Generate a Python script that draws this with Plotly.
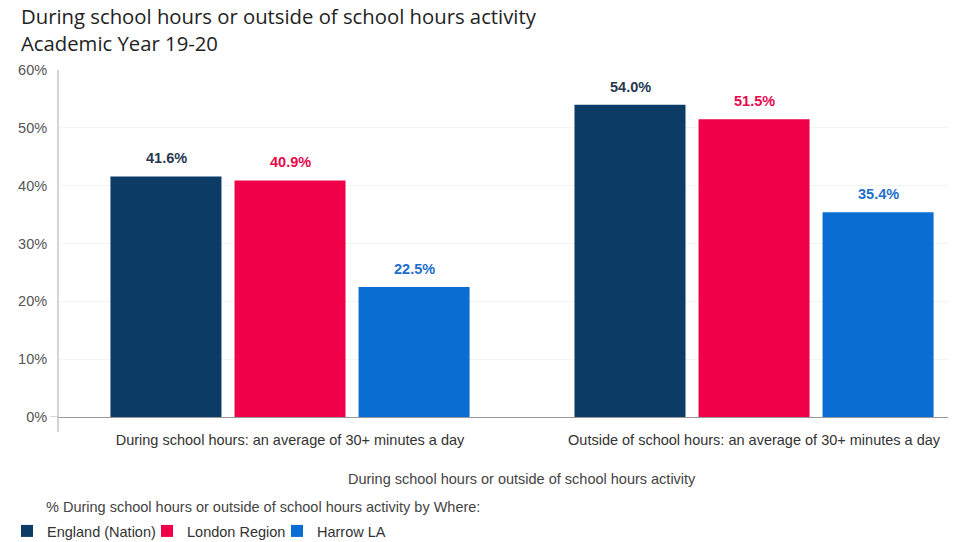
import plotly.graph_objects as go

categories = ["During school hours: an average of 30+ minutes a day",
              "Outside of school hours: an average of 30+ minutes a day"]
series_names = ["England (Nation)", "London Region", "Harrow LA"]
england = [41.6, 54.0]
london = [40.9, 51.5]
harrow = [22.5, 35.4]
bar_colors = ["#0c3c66", "#ef0049", "#0a6dd3"]
label_colors = ["#26384f", "#e8084d", "#1e6fcc"]
y_ticks = [0, 10, 20, 30, 40, 50, 60]
y_tick_labels = ["0%", "10%", "20%", "30%", "40%", "50%", "60%"]

values = [england, london, harrow]
FONT = "Liberation Sans, Arial"
FS = 14.5

# page has an 8px body margin; work in page pixels and convert
OFF = 8
W, H = 957 - OFF, 542 - OFF
plot_left, plot_right, plot_top, plot_bottom = 58, 948, 70, 417
ml = plot_left - OFF
mr = W - (plot_right - OFF)
mt = plot_top - OFF
mb = H - (plot_bottom - OFF)
pw, ph = W - ml - mr, H - mt - mb


def px(x_page):
    return (x_page - OFF - ml) / pw


def py(y_page):
    return 1 - (y_page - OFF - mt) / ph


legend_ids = ["legend", "legend2", "legend3"]
legend_x_page = [7, 147, 277]

fig = go.Figure()
for name, vals, col, lid in zip(series_names, values, bar_colors, legend_ids):
    fig.add_trace(go.Bar(x=categories, y=vals, name=name, legend=lid,
                         marker=dict(color=col, line=dict(width=0))))

anns = []
for i, (vals, lc) in enumerate(zip(values, label_colors)):
    for cat, v in zip(categories, vals):
        anns.append(dict(x=cat, y=v, xref="x", yref="y", text=f"{v:.1f}%",
                         showarrow=False, xshift=(i - 1) * 124, yshift=18,
                         yanchor="middle",
                         font=dict(family=FONT, size=FS, color=lc, weight="bold")))

extra = [
    dict(text="During school hours or outside of school hours activity", x=px(19), y=py(15.5),
         font=dict(family="Open Sans, sans-serif", size=20.3, color="#222222")),
    dict(text="Academic Year 19-20", x=px(19), y=py(42.5),
         font=dict(family="Open Sans, sans-serif", size=20.3, color="#222222")),
    dict(text="% During school hours or outside of school hours activity by Where:", x=px(44), y=py(507),
         font=dict(family=FONT, size=FS, color="#444444")),
]
for e in extra:
    anns.append(dict(text=e["text"], x=e["x"], y=e["y"], xref="paper", yref="paper",
                     xanchor="left", yanchor="middle", showarrow=False, font=e["font"]))
anns.append(dict(text="During school hours or outside of school hours activity", x=0.5, xref="x",
                 y=py(479), yref="paper", xanchor="center", yanchor="middle", showarrow=False,
                 font=dict(family=FONT, size=FS, color="#444444")))

shapes = [
    # y axis line, extending a little below the baseline
    dict(type="line", xref="paper", yref="paper", x0=0, x1=0, y0=py(432), y1=1,
         line=dict(color="#aaaaaa", width=1)),
    # tick mark at 0%
    dict(type="line", xref="paper", yref="y", x0=px(50), x1=0, y0=0, y1=0,
         line=dict(color="#aaaaaa", width=1)),
]

legend_common = dict(orientation="h", yanchor="middle", xanchor="left",
                     font=dict(family=FONT, size=FS, color="#333333"),
                     bgcolor="rgba(0,0,0,0)")

fig.update_layout(
    width=W, height=H,
    margin=dict(l=ml, r=mr, t=mt, b=mb, autoexpand=False),
    paper_bgcolor="white", plot_bgcolor="white",
    barmode="group", bargap=0.198, bargroupgap=0.105,
    annotations=anns,
    shapes=shapes,
    xaxis=dict(type="category", range=[-0.5, 1.418], showgrid=False, automargin=False,
               showline=True, linecolor="#999999", linewidth=1,
               tickfont=dict(family=FONT, size=FS, color="#333333"),
               ticks="outside", ticklen=10, tickcolor="rgba(0,0,0,0)", fixedrange=True),
    yaxis=dict(range=[0, 60], tickvals=y_ticks, ticktext=y_tick_labels, automargin=False,
               showgrid=True, gridcolor="#f3f3f3", zeroline=False, showline=False,
               ticks="outside", ticklen=7, tickcolor="rgba(0,0,0,0)",
               tickfont=dict(family=FONT, size=FS, color="#555555")),
    legend=dict(x=px(legend_x_page[0]), y=py(531), **legend_common),
    legend2=dict(x=px(legend_x_page[1]), y=py(531), **legend_common),
    legend3=dict(x=px(legend_x_page[2]), y=py(531), **legend_common),
    showlegend=True,
)

fig.write_html("out.html")
